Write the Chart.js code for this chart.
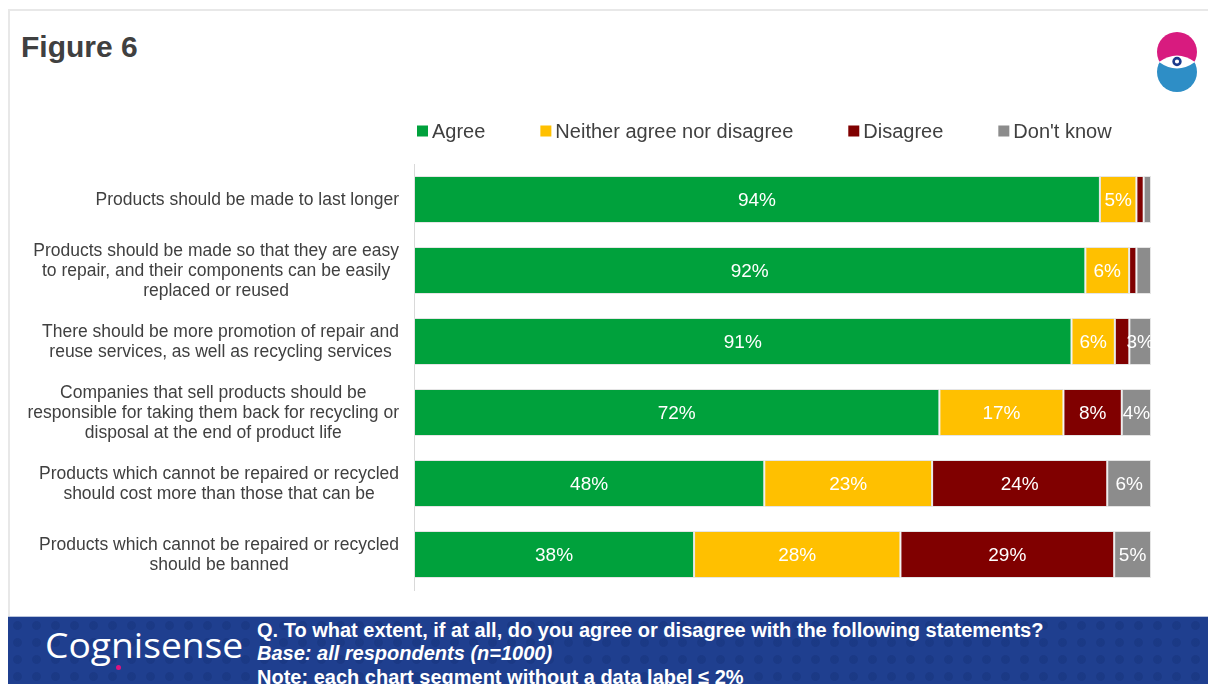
<!DOCTYPE html>
<html>
<head>
<meta charset="utf-8">
<script src="https://cdn.jsdelivr.net/npm/chart.js@4.4.1/dist/chart.umd.min.js"></script>
<style>
  html, body { margin: 0; padding: 0; background: #fff; }
  #page { position: relative; width: 1208px; height: 684px; overflow: hidden; background: #fff;
          font-family: "Liberation Sans", Arial, sans-serif; }
  #frameTop { position: absolute; left: 8px; top: 9px; width: 1200px; height: 2px; background: #e8e8e8; }
  #frameLeft { position: absolute; left: 8px; top: 9px; width: 2px; height: 620px; background: #e8e8e8; }
  #title { position: absolute; left: 21px; top: 32px; font-size: 30px; line-height: 30px; font-weight: bold; color: #404040; }
  #logo { position: absolute; left: 0; top: 0; }
  #chart { position: absolute; left: 0; top: 0; }
  #banner { position: absolute; left: 8px; top: 616px; width: 1200px; height: 68px;
            background-color: #1f3f8f;
            background-image: radial-gradient(circle, rgba(10,30,90,0.18) 4px, transparent 5px);
            background-size: 19px 17px; border-top: 1px solid #b9c4dc; }
  .bline { position: absolute; left: 249px; color: #fff; font-size: 20px; line-height: 20px; font-weight: bold; white-space: nowrap; }
  #brand { position: absolute; left: 37px; top: 11px; color: #fff; font-family: "Open Sans", sans-serif;
           font-size: 34px; line-height: 34px; font-weight: 400; white-space: nowrap; transform-origin: 0 0; }
  #brandDot { position: absolute; left: 108px; top: 48px; width: 5px; height: 5px; border-radius: 50%; background: #e0147f; }
</style>
</head>
<body>
<div id="page">
  <div id="frameTop"></div>
  <div id="frameLeft"></div>
  <div id="title">Figure 6</div>
  <svg id="logo" width="1208" height="110">
    <defs>
      <clipPath id="lower"><rect x="1150" y="62" width="60" height="40"/></clipPath>
    </defs>
    <circle cx="1177" cy="52" r="20" fill="#d81b7f"/>
    <circle cx="1177" cy="72" r="20" fill="#2e8ec6" clip-path="url(#lower)"/>
    <path d="M1159 62 Q1177 49 1195 62 Q1177 75 1159 62 Z" fill="#fff"/>
    <circle cx="1177" cy="61.5" r="3.4" fill="#fff" stroke="#1c3a8c" stroke-width="2.6"/>
  </svg>
  <canvas id="chart" width="1208" height="684"></canvas>
  <div id="banner">
    <span id="brand">Cognisense</span>
    <div id="brandDot"></div>
    <div class="bline" style="top:3px;">Q. To what extent, if at all, do you agree or disagree with the following statements?</div>
    <div class="bline" style="top:26px;font-style:italic;">Base: all respondents (n=1000)</div>
    <div class="bline" style="top:50px;">Note: each chart segment without a data label ≤ 2%</div>
  </div>
</div>
<script>
// Survey statements (one entry per line of the wrapped label)
const statements = [
  ["Products should be made to last longer"],
  ["Products should be made so that they are easy", "to repair, and their components can be easily", "replaced or reused"],
  ["There should be more promotion of repair and", "reuse services, as well as recycling services"],
  ["Companies that sell products should be", "responsible for taking them back for recycling or", "disposal at the end of product life"],
  ["Products which cannot be repaired or recycled", "should cost more than those that can be"],
  ["Products which cannot be repaired or recycled", "should be banned"]
];

// Response shares in percent, as reported
const agree    = [94, 92, 91, 72, 48, 38];
const neither  = [5, 6, 6, 17, 23, 28];
const disagree = [1, 1, 2, 8, 24, 29];
const dontKnow = [1, 2, 3, 4, 6, 5];

const seriesNames  = ["Agree", "Neither agree nor disagree", "Disagree", "Don't know"];
const seriesColors = ["#00a13c", "#ffc000", "#800000", "#8c8c8c"];
const seriesValues = [agree, neither, disagree, dontKnow];

// Segments without a printed label are at or below this share
const labelThreshold = 2;

// Each row is a 100% stacked bar: scale every answer by its row total
const rowTotals = statements.map((_, i) => seriesValues.reduce((s, arr) => s + arr[i], 0));

const datasets = seriesValues.map((vals, k) => ({
  label: seriesNames[k],
  data: vals.map((v, i) => v / rowTotals[i] * 100),
  reported: vals,
  backgroundColor: seriesColors[k],
  borderColor: "rgba(225,225,225,0.85)",
  borderWidth: 1,
  borderSkipped: false,
  barPercentage: 0.66,
  categoryPercentage: 1.0
}));

const FONT = '"Liberation Sans", Arial, sans-serif';

// Wrapped category labels: lines centred on each other, block right-aligned
const categoryLabels = {
  id: "categoryLabels",
  afterDraw(chart) {
    const ctx = chart.ctx;
    const y = chart.scales.y;
    const right = 399, lh = 20;
    ctx.save();
    ctx.font = "17.5px " + FONT;
    ctx.fillStyle = "#404040";
    ctx.textAlign = "center";
    ctx.textBaseline = "middle";
    chart.data.labels.forEach((lines, i) => {
      const cy = y.getPixelForTick(i);
      const maxW = Math.max(...lines.map(l => ctx.measureText(l).width));
      const cx = right - maxW / 2;
      lines.forEach((line, j) => {
        ctx.fillText(line, cx, cy + (j - (lines.length - 1) / 2) * lh + 1);
      });
    });
    ctx.restore();
  }
};

// Percent labels inside the segments
const segmentLabels = {
  id: "segmentLabels",
  afterDatasetsDraw(chart) {
    const ctx = chart.ctx;
    const area = chart.chartArea;
    ctx.save();
    ctx.beginPath();
    ctx.rect(area.left, area.top, area.right - area.left, area.bottom - area.top);
    ctx.clip();
    ctx.font = "19px " + FONT;
    ctx.fillStyle = "#ffffff";
    ctx.textAlign = "center";
    ctx.textBaseline = "middle";
    chart.data.datasets.forEach((ds, k) => {
      const meta = chart.getDatasetMeta(k);
      meta.data.forEach((bar, i) => {
        const v = ds.reported[i];
        if (v <= labelThreshold) return;
        ctx.fillText(v + "%", (bar.x + bar.base) / 2, bar.y + 1);
      });
    });
    ctx.restore();
  }
};

// Legend row above the bars
const legendRow = {
  id: "legendRow",
  afterDraw(chart) {
    const ctx = chart.ctx;
    const box = 11, gapText = 4, gapItem = 55, cy = 131;
    let x = 417;
    ctx.save();
    ctx.font = "20px " + FONT;
    ctx.textBaseline = "middle";
    ctx.textAlign = "left";
    chart.data.datasets.forEach(ds => {
      ctx.fillStyle = ds.backgroundColor;
      ctx.fillRect(x, cy - box / 2, box, box);
      x += box + gapText;
      ctx.fillStyle = "#404040";
      ctx.fillText(ds.label, x, cy + 1);
      x += ctx.measureText(ds.label).width + gapItem;
    });
    ctx.restore();
  }
};

new Chart(document.getElementById("chart"), {
  type: "bar",
  data: { labels: statements, datasets },
  options: {
    indexAxis: "y",
    responsive: false,
    animation: false,
    devicePixelRatio: 1,
    layout: { padding: { top: 164, right: 57, bottom: 94, left: 0 } },
    plugins: { legend: { display: false }, tooltip: { enabled: false } },
    scales: {
      x: { stacked: true, min: 0, max: 100, display: false },
      y: {
        stacked: true,
        grid: { display: false },
        border: { display: true, color: "#d9d9d9", width: 1 },
        ticks: { display: false },
        afterFit(scale) { scale.width = 414; }
      }
    }
  },
  plugins: [categoryLabels, segmentLabels, legendRow]
});

// Fit the wordmark to its slot
const brand = document.getElementById("brand");
brand.style.transform = "scale(" + (198 / brand.offsetWidth) + ", 1)";
</script>
</body>
</html>
